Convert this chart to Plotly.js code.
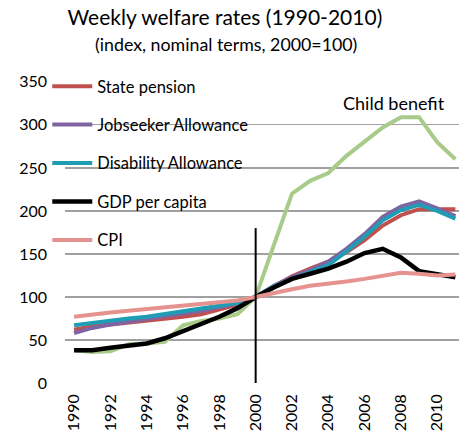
<!DOCTYPE html>
<html>
<head>
<meta charset="utf-8">
<script src="https://cdn.plot.ly/plotly-3.0.1.min.js"></script>
<style>html,body{margin:0;padding:0;background:#fff;overflow:hidden}</style>
</head>
<body>
<div id="chart" style="width:459px;height:435px"></div>
<script>
const years = [1990,1991,1992,1993,1994,1995,1996,1997,1998,1999,2000,2001,2002,2003,2004,2005,2006,2007,2008,2009,2010,2011];
const statePension  = [62,66,68,70,72,74,77,80,85,91,100,112,124,133,141,152,166,183,195,202,202,202];
const jobseeker     = [58,64,68,71,74,77,80,84,88,93,100,113,123,131,141,156,173,193,205,211,203,194];
const disability    = [67,70,73,75,77,80,83,86,89,93,100,112,121,129,137,153,170,189,201,207,200,191];
const gdpPerCapita  = [38,38,41,44,46,52,60,68,77,87,100,111,121,127,133,141,151,156,146,130,126,123];
const cpi           = [77,80,82,84,86,88,89,91,93,96,100,105,109,113,115,118,121,125,128,127,125,126];
const childBenefit  = [38,36,37,45,46,48,67,72,75,80,100,160,220,235,244,264,280,297,309,309,280,260];
const xTicks = [1990,1992,1994,1996,1998,2000,2002,2004,2006,2008,2010];

const FONT = "Lato, 'Open Sans', sans-serif";
function tr(name, y, color, show, w) {
  return {x: years, y: y, name: name, type: 'scatter', mode: 'lines',
    line: {color: color, width: w || 4}, showlegend: show, legendgroup: name};
}
const data = [
  tr('Child benefit', childBenefit, '#A8CB8A', false),
  tr('State pension', statePension, '#C0504D', true),
  tr('Jobseeker Allowance', jobseeker, '#8064A2', true),
  tr('Disability Allowance', disability, '#1F9DB4', true),
  tr('GDP per capita', gdpPerCapita, '#000000', true, 4.5),
  tr('CPI', cpi, '#E6928F', true)
];
const layout = {
  width: 459, height: 435,
  margin: {l: 65, r: 0, t: 81, b: 52},
  paper_bgcolor: '#fff', plot_bgcolor: '#fff',
  font: {family: FONT, color: '#000', size: 16},
  title: {
    text: 'Weekly welfare rates (1990-2010)',
    font: {family: FONT, size: 21, color: '#000'},
    x: 0.49, xanchor: 'center', xref: 'container',
    y: 1 - 18 / 435, yanchor: 'middle', yref: 'container'
  },
  xaxis: {
    type: 'linear', range: [1989.5, 2011.2], tickvals: xTicks, ticktext: xTicks.map(String),
    tickangle: -90, showgrid: false, zeroline: false, showline: false, ticks: '',
    ticklabelstandoff: 7,
    tickfont: {family: FONT, size: 16, color: '#000'}
  },
  yaxis: {
    range: [0, 351], dtick: 50, tick0: 0, showgrid: true, gridcolor: '#A0A0A0', gridwidth: 1.2,
    zeroline: false, showline: false, ticks: '', ticklabelstandoff: 17,
    tickfont: {family: FONT, size: 16, color: '#000'}
  },
  legend: {
    x: -0.045, xanchor: 'left', y: 1.04, yanchor: 'top',
    bgcolor: 'rgba(0,0,0,0)', traceorder: 'grouped', tracegroupgap: 14,
    itemwidth: 40, font: {family: FONT, size: 16.5, color: '#000'}
  },
  shapes: [{type: 'line', xref: 'x', yref: 'y', x0: 2000, x1: 2000, y0: 0, y1: 180,
    line: {color: '#000', width: 2}, layer: 'above'}],
  annotations: [
    {x: 0.49, y: 1 - 44 / 435, xref: 'paper', yref: 'paper', text: '(index, nominal terms, 2000=100)',
      showarrow: false, xanchor: 'center', yanchor: 'middle',
      font: {family: FONT, size: 17.8, color: '#000'}},
    {x: 2007.6, y: 326, xref: 'x', yref: 'y', text: 'Child benefit', showarrow: false,
      font: {family: FONT, size: 18, color: '#000'}}
  ]
};
// subtitle annotation positioned in pixels relative to plot area
const plotH = 435 - 81 - 52, plotW = 459 - 65;
layout.annotations[0].y = (383 - 44) / plotH;
layout.annotations[0].x = (226 - 65) / plotW;
Plotly.newPlot('chart', data, layout, {staticPlot: true, displayModeBar: false});
</script>
</body>
</html>
